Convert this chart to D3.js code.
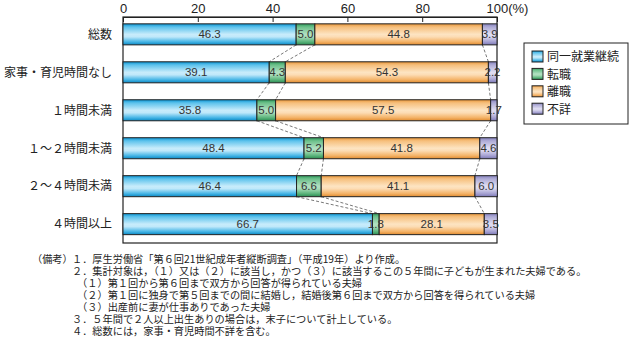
<!DOCTYPE html>
<html><head><meta charset="utf-8">
<script src="https://cdn.jsdelivr.net/npm/d3@7"></script>
<style>
body{margin:0;background:#fff;}
svg{display:block;}
</style></head>
<body>
<svg id="c" width="629" height="344"></svg>
<script>
const categories = ["総数","家事・育児時間なし","１時間未満","１～２時間未満","２～４時間未満","４時間以上"];
const seriesNames = ["同一就業継続","転職","離職","不詳"];
const sameJob = [46.3,39.1,35.8,48.4,46.4,66.7];
const changeJob = [5.0,4.3,5.0,5.2,6.6,1.8];
const leftJob = [44.8,54.3,57.5,41.8,41.1,28.1];
const unknown = [3.9,2.2,1.7,4.6,6.0,3.5];
const tickValues = [0,20,40,60,80,100];
const notes = [
 ["（備考）","１．厚生労働省「第６回21世紀成年者縦断調査」（平成19年）より作成。"],
 ["","２．集計対象は，（１）又は（２）に該当し，かつ（３）に該当するこの５年間に子どもが生まれた夫婦である。"],
 ["","　（１）第１回から第６回まで双方から回答が得られている夫婦"],
 ["","　（２）第１回に独身で第５回までの間に結婚し，結婚後第６回まで双方から回答を得られている夫婦"],
 ["","　（３）出産前に妻が仕事ありであった夫婦"],
 ["","３．５年間で２人以上出生ありの場合は，末子について計上している。"],
 ["","４．総数には，家事・育児時間不詳を含む。"]
];

const series = [sameJob, changeJob, leftJob, unknown];
const grads = [
 ["#0a93d2","#5cc2ec","#c8ecfb","#bfe8fa","#48b6e6","#0a88c4"],
 ["#2f9a5c","#6cc08a","#b2e0c2","#a8dcb8","#5cb47c","#2a8c52"],
 ["#e8963a","#f6bf7c","#fde4c2","#fcdcb4","#f4b368","#e08a2e"],
 ["#8581bd","#aeabd6","#e0def2","#d8d6ee","#a6a2d2","#7c78b6"]
];

const svg = d3.select("#c");
const defs = svg.append("defs");
grads.forEach((g,i)=>{
  const lg = defs.append("linearGradient").attr("id","g"+i).attr("x1",0).attr("y1",0).attr("x2",0).attr("y2",1);
  const offs=[0,0.15,0.5,0.62,0.85,1];
  g.forEach((c,j)=>lg.append("stop").attr("offset",offs[j]).attr("stop-color",c));
});

const x = d3.scaleLinear().domain([0,100]).range([123,497]);
const y = d3.scaleBand().domain(categories).range([17,243]).paddingInner(0.446).paddingOuter(0.2).align(0.45);
const font = "'Noto Sans CJK JP','Noto Sans',sans-serif";
const numFont = "'Liberation Sans',Arial,sans-serif";

// stacked data
const stacks = categories.map((c,i)=>{
  let acc=0; return series.map((s,k)=>{const v=s[i]; const r={cat:c,k,v,x0:acc,x1:acc+v}; acc+=v; return r;});
});

// frame
svg.append("rect").attr("x",x(0)).attr("y",17).attr("width",x(100)-x(0)).attr("height",226)
  .attr("fill","none").attr("stroke","#222").attr("stroke-width",1.2);

// axis
const ax = svg.append("g").attr("transform","translate(0,17)")
  .call(d3.axisTop(x).tickValues(tickValues).tickSize(5).tickSizeOuter(0).tickFormat(d=>d===100?"100(%)":d));
ax.select(".domain").attr("stroke","#222").attr("stroke-width",1.2);
ax.selectAll(".tick line").attr("stroke","#222").attr("y2",5).attr("stroke-width",1);
ax.selectAll(".tick text").attr("font-family",numFont).attr("font-size",13).attr("fill","#222").attr("y",-4).attr("dy",0);
ax.selectAll(".tick").filter(d=>d===100).select("text").attr("text-anchor","start").attr("dx",-11);

// connectors
const conn = svg.append("g");
for(let i=0;i<categories.length-1;i++){
  for(let k=0;k<3;k++){
    conn.append("line")
      .attr("x1",x(stacks[i][k].x1)).attr("y1",y(categories[i])+y.bandwidth())
      .attr("x2",x(stacks[i+1][k].x1)).attr("y2",y(categories[i+1]))
      .attr("stroke","#555").attr("stroke-width",0.8).attr("stroke-dasharray","3,2");
  }
}

// bars
const rows = svg.append("g").selectAll("g").data(stacks).join("g");
rows.selectAll("rect").data(d=>d).join("rect")
  .attr("x",d=>x(d.x0)).attr("y",d=>y(d.cat)).attr("width",d=>x(d.x1)-x(d.x0)).attr("height",y.bandwidth())
  .attr("fill",d=>`url(#g${d.k})`).attr("stroke","#222").attr("stroke-width",1);
rows.selectAll("text").data(d=>d).join("text")
  .attr("x",d=>(x(d.x0)+x(d.x1))/2).attr("y",d=>y(d.cat)+y.bandwidth()/2).attr("dy","0.36em")
  .attr("text-anchor","middle").attr("font-family",numFont).attr("font-size",11.5).attr("fill","#333")
  .text(d=>d.v.toFixed(1));

// category labels
svg.append("g").selectAll("text").data(categories).join("text")
  .attr("x",112).attr("y",d=>y(d)+y.bandwidth()/2).attr("dy","0.36em").attr("text-anchor","end")
  .attr("font-family",font).attr("font-size",12).attr("fill","#222").text(d=>d);

// legend
const lg = svg.append("g");
lg.append("rect").attr("x",524).attr("y",43).attr("width",104).attr("height",81).attr("fill","#fff").attr("stroke","#222").attr("stroke-width",1);
seriesNames.forEach((n,i)=>{
  const yy = 57+i*17.4;
  lg.append("rect").attr("x",532).attr("y",yy-6).attr("width",11).attr("height",11).attr("fill",`url(#g${i})`).attr("stroke","#222");
  lg.append("text").attr("x",547).attr("y",yy).attr("dy","0.36em").attr("font-family",font).attr("font-size",12).attr("fill","#222").text(n);
});

// notes
const ng = svg.append("g");
notes.forEach((n,i)=>{
  const yy = 259+i*12.1;
  if(n[0]) ng.append("text").attr("x",32).attr("y",yy).attr("dy","0.36em").attr("font-family",font).attr("font-size",10.2).attr("fill","#222").text(n[0]);
  ng.append("text").attr("x",72).attr("y",yy).attr("dy","0.36em").attr("font-family",font).attr("font-size",10.2).attr("fill","#222").style("white-space","pre").text(n[1]);
});
</script>
</body></html>
